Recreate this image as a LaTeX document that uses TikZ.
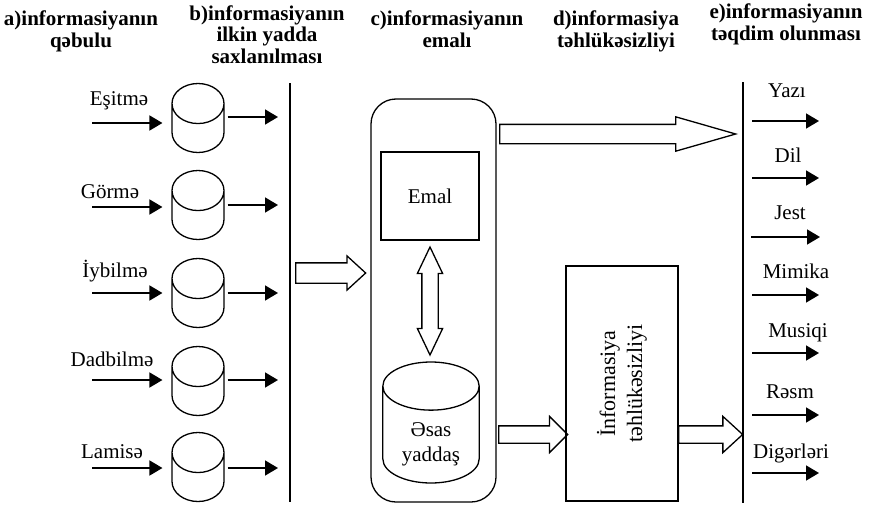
\documentclass[tikz,border=0pt]{standalone}
\usepackage{fontspec}
\setmainfont{Liberation Serif}
\usetikzlibrary{arrows.meta,shapes.geometric,shapes.arrows}
\tikzset{
  every node/.style={font=\fontsize{21}{25}\selectfont,text=black},
  head/.style={font=\fontsize{21}{21.5}\selectfont\bfseries,align=center,inner sep=0pt,anchor=base},
  lbl/.style={inner sep=0pt,anchor=base},
  buffer/.style={cylinder,shape border rotate=90,draw,line width=1.3pt,aspect=0.77,minimum width=52pt,minimum height=69pt,inner xsep=26pt,inner ysep=0pt,anchor=shape center},
  store/.style={buffer,aspect=0.5,minimum width=96pt,minimum height=121pt,inner xsep=19pt,inner ysep=4pt,align=center,font=\fontsize{21}{25}\selectfont},
  proc/.style={draw,line width=1.3pt,rounded corners=25pt,minimum width=125pt,minimum height=403pt},
  box/.style={draw,line width=1.3pt,minimum width=98pt,minimum height=88pt},
  guardbox/.style={draw,line width=1.3pt,rotate=90,minimum width=235pt,minimum height=112pt,align=center,font=\fontsize{22}{27}\selectfont},
  hollow/.style={single arrow,draw,line width=1.3pt,inner xsep=0pt,anchor=tail},
  hollowboth/.style={double arrow,draw,line width=1.3pt,inner xsep=0pt},
  arrow/.style={-{Triangle[length=13pt,width=15pt]},line width=1.6pt},
  bar/.style={line width=1.6pt}
}
\begin{document}
\begin{tikzpicture}[x=1pt,y=-1pt]
  \useasboundingbox (0,0) rectangle (870,506);

  % column titles
  \node[head] (ha) at (81,47) {a)informasiyanın\\qəbulu};
  \node[head] (hb) at (267,63) {b)informasiyanın\\ilkin yadda\\saxlanılması};
  \node[head] (hc) at (447,47) {c)informasiyanın\\emalı};
  \node[head] (hd) at (616,47) {d)informasiya\\təhlükəsizliyi};
  \node[head] (he) at (786,40) {e)informasiyanın\\təqdim olunması};

  % senses and first buffers
  \node[lbl] (hearlbl) at (119,105) {Eşitmə};
  \node[lbl] (sightlbl) at (110,198) {Görmə};
  \node[lbl] (smelllbl) at (115,277) {İybilmə};
  \node[lbl] (tastelbl) at (112,366) {Dadbilmə};
  \node[lbl] (touchlbl) at (112,458) {Lamisə};

  \node[buffer] (hearbuf) at (198,118) {};
  \node[buffer] (sightbuf) at (198,205) {};
  \node[buffer] (smellbuf) at (198,293) {};
  \node[buffer] (tastebuf) at (198,381) {};
  \node[buffer] (touchbuf) at (198,467) {};

  \coordinate (hearin) at (92,123);   \coordinate (hearout) at (278,117);
  \coordinate (sightin) at (92,207);  \coordinate (sightout) at (278,205);
  \coordinate (smellin) at (92,293);  \coordinate (smellout) at (278,293);
  \coordinate (tastein) at (92,380);  \coordinate (tasteout) at (278,380);
  \coordinate (touchin) at (92,468);  \coordinate (touchout) at (278,468);

  \draw[arrow,shorten >=10pt] (hearin) -- (hearin -| hearbuf.west);
  \draw[arrow,shorten >=10pt] (sightin) -- (sightin -| sightbuf.west);
  \draw[arrow,shorten >=10pt] (smellin) -- (smellin -| smellbuf.west);
  \draw[arrow,shorten >=10pt] (tastein) -- (tastein -| tastebuf.west);
  \draw[arrow,shorten >=10pt] (touchin) -- (touchin -| touchbuf.west);
  \draw[arrow,shorten <=4pt] (hearout -| hearbuf.east) -- (hearout);
  \draw[arrow,shorten <=4pt] (sightout -| sightbuf.east) -- (sightout);
  \draw[arrow,shorten <=4pt] (smellout -| smellbuf.east) -- (smellout);
  \draw[arrow,shorten <=4pt] (tasteout -| tastebuf.east) -- (tasteout);
  \draw[arrow,shorten <=4pt] (touchout -| touchbuf.east) -- (touchout);

  \draw[bar] (290,83) -- (290,502);
  \draw[bar] (743,82) -- (743,503);

  % processing block
  \node[proc] (proc) at (433.5,300.5) {};
  \node[box] (emal) at (430,196) {Emal};
  \node[store] (store) at (431,422.5) {Əsas\\yaddaş};
  \node[hollowboth,inner ysep=7.5pt,double arrow head extend=4.5pt,double arrow tip angle=51,minimum height=108pt,rotate=90] (swap) at (430,301) {};
  \node[hollow,inner ysep=9.5pt,single arrow head extend=7pt,single arrow tip angle=85,minimum height=70pt] (feed) at (295,273) {};

  % security and output
  \node[guardbox] (guard) at (622,383.5) {İnformasiya\\təhlükəsizliyi};
  \node[hollow,inner ysep=9pt,single arrow head extend=7.5pt,single arrow tip angle=32,minimum height=236pt] (present) at (499,134) {};
  \node[hollow,inner ysep=8pt,single arrow head extend=9.5pt,single arrow tip angle=90,minimum height=69pt] (toguard) at (498,434.5) {};
  \node[hollow,inner ysep=8pt,single arrow head extend=9.5pt,single arrow tip angle=85,minimum height=64pt] (fromguard) at (678,434.5) {};

  \node[lbl] (yazi) at (787,97) {Yazı};
  \node[lbl] (dil) at (788,162) {Dil};
  \node[lbl] (jest) at (790,219) {Jest};
  \node[lbl] (mimika) at (796,278) {Mimika};
  \node[lbl] (musiqi) at (798,337) {Musiqi};
  \node[lbl] (resm) at (790,398) {Rəsm};
  \node[lbl] (diger) at (791,458) {Digərləri};

  \coordinate (yazi-a) at (752,121);   \coordinate (yazi-b) at (819,121);
  \coordinate (dil-a) at (752,178);    \coordinate (dil-b) at (819,178);
  \coordinate (jest-a) at (751,237);   \coordinate (jest-b) at (820,237);
  \coordinate (mimika-a) at (752,295); \coordinate (mimika-b) at (819,295);
  \coordinate (musiqi-a) at (752,353); \coordinate (musiqi-b) at (819,353);
  \coordinate (resm-a) at (752,415);   \coordinate (resm-b) at (819,415);
  \coordinate (diger-a) at (752,473);  \coordinate (diger-b) at (819,473);

  \draw[arrow] (yazi-a) -- (yazi-b);
  \draw[arrow] (dil-a) -- (dil-b);
  \draw[arrow] (jest-a) -- (jest-b);
  \draw[arrow] (mimika-a) -- (mimika-b);
  \draw[arrow] (musiqi-a) -- (musiqi-b);
  \draw[arrow] (resm-a) -- (resm-b);
  \draw[arrow] (diger-a) -- (diger-b);
\end{tikzpicture}
\end{document}
